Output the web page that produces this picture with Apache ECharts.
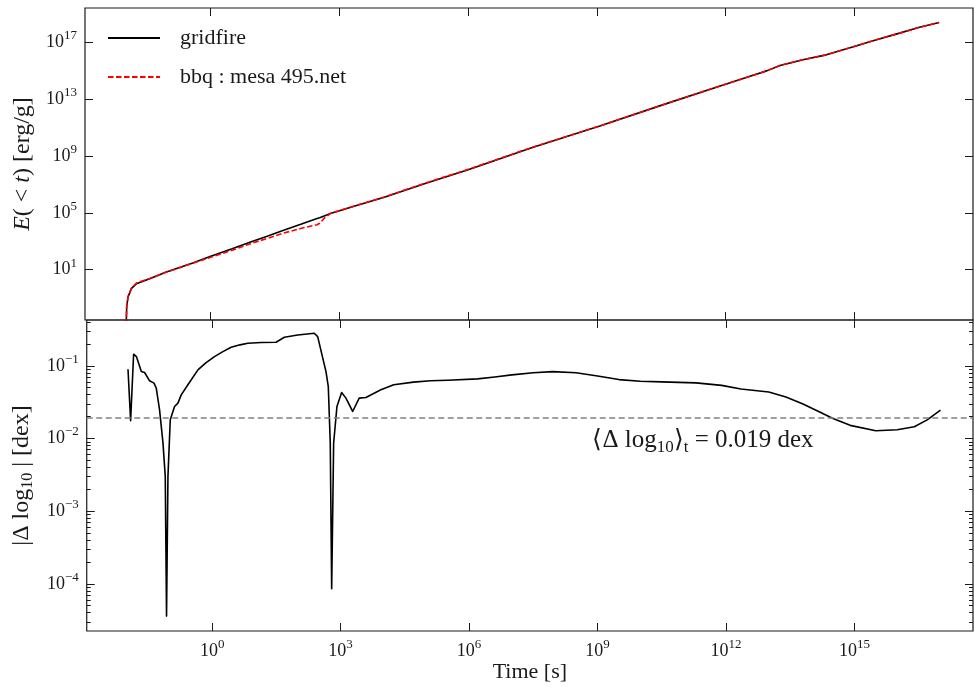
<!DOCTYPE html>
<html>
<head>
<meta charset="utf-8">
<script src="https://cdn.jsdelivr.net/npm/echarts@6/dist/echarts.min.js"></script>
<style>html,body{margin:0;padding:0;background:#fff}#c{width:974px;height:687px}</style>
</head>
<body>
<div id="c"></div>
<script>
// ---- data (log10 values) ----
const topLogTime = [-1.968, -1.966, -1.958, -1.928, -1.849, -1.732, -1.422, -1.033, -0.863, -0.4, 0.0, 0.5, 0.93, 1.3, 1.7, 2.1, 2.48, 2.54, 2.66, 2.79, 3.4, 4.03, 5.0, 6.02, 7.5, 9.07, 10.5, 12.0, 12.5, 12.96, 13.27, 13.8, 14.35, 15.0, 15.5, 16.06, 16.5, 16.98];
const gridfireLogE = [-4, -2.5, -1.64, -0.94, -0.34, 0.01, 0.36, 0.83, 1.00, 1.49, 1.94, 2.47, 2.95, 3.34, 3.77, 4.19, 4.60, 4.66, 4.80, 4.95, 5.52, 6.08, 7.06, 8.05, 9.6, 11.12, 12.57, 14.06, 14.55, 15.0, 15.38, 15.78, 16.13, 16.72, 17.18, 17.66, 18.05, 18.41];
const bbqLogE = [-4, -2.5, -1.64, -0.92, -0.31, 0.05, 0.38, 0.83, 0.99, 1.47, 1.87, 2.36, 2.83, 3.18, 3.57, 3.90, 4.16, 4.27, 4.66, 4.95, 5.53, 6.10, 7.09, 8.08, 9.62, 11.12, 12.57, 14.06, 14.55, 15.0, 15.38, 15.78, 16.13, 16.72, 17.18, 17.66, 18.05, 18.41];

const diffLogTime = [-1.966, -1.905, -1.835, -1.770, -1.655, -1.578, -1.462, -1.359, -1.306, -1.229, -1.149, -1.096, -1.066, -1.033, -0.979, -0.879, -0.800, -0.723, -0.567, -0.333, -0.15, 0.054, 0.25, 0.443, 0.65, 0.832, 1.15, 1.492, 1.686, 1.998, 2.385, 2.464, 2.658, 2.712, 2.758, 2.791, 2.837, 2.914, 3.024, 3.124, 3.281, 3.434, 3.591, 3.940, 4.24, 4.7, 5.1, 5.5, 6.2, 6.6, 7.0, 7.5, 7.95, 8.5, 9.0, 9.5, 10.0, 10.5, 11.3, 11.9, 12.35, 13.0, 13.4, 13.8, 14.2, 14.5, 14.9, 15.5, 16.0, 16.4, 16.7, 17.01];
const diffLogDex = [-1.047, -1.757, -0.841, -0.874, -1.080, -1.093, -1.207, -1.239, -1.308, -1.606, -2.063, -2.522, -4.445, -2.522, -1.743, -1.560, -1.514, -1.400, -1.262, -1.056, -0.96, -0.874, -0.805, -0.745, -0.712, -0.690, -0.680, -0.676, -0.607, -0.576, -0.552, -0.599, -1.080, -1.286, -2.063, -4.069, -2.063, -1.560, -1.368, -1.445, -1.629, -1.445, -1.437, -1.331, -1.26, -1.225, -1.207, -1.200, -1.180, -1.155, -1.125, -1.095, -1.080, -1.095, -1.140, -1.190, -1.212, -1.222, -1.235, -1.270, -1.320, -1.360, -1.430, -1.525, -1.640, -1.725, -1.820, -1.895, -1.880, -1.840, -1.745, -1.610];
const meanDex = 0.019;

const xTickExp = [0, 3, 6, 9, 12, 15];
const topYTickExp = [1, 5, 9, 13, 17];
const botYTickExp = [-4, -3, -2, -1];

// ---- helpers ----
const FONT = 'Liberation Serif';
const INK = '#1a1a1a';
const xMin = -2.93, xMax = 17.77;
const topMin = -2.55, topMax = 19.43;
const botMin = -4.65, botMax = -0.37;

const botMinor = [];
for (let n = -5; n <= 0; n++) for (let k = 2; k <= 9; k++) {
  const v = n + Math.log10(k);
  if (v > botMin && v < botMax) botMinor.push(v);
}
function zip(a, b) { return a.map((v, i) => [v, b[i]]); }
function pow10(v) {
  const n = Math.round(v);
  const s = n < 0 ? '\u2212' + (-n) : '' + n;
  return '{b|10}{s|' + s + '}';
}
const labelRich = {
  b: { fontFamily: FONT, fontSize: 18, color: INK, lineHeight: 26 },
  s: { fontFamily: FONT, fontSize: 13, color: INK, verticalAlign: 'top', lineHeight: 15 }
};
function tick(len, vals) {
  return { show: true, inside: true, length: len, customValues: vals, lineStyle: { color: INK, width: 1 } };
}
function xAx(grid, pos, labels) {
  return {
    type: 'value', gridIndex: grid, position: pos, min: xMin, max: xMax,
    axisLine: { show: false, onZero: false }, splitLine: { show: false },
    axisTick: tick(8, xTickExp),
    axisLabel: labels ? { show: true, customValues: xTickExp, formatter: pow10, rich: labelRich, margin: 7 } : { show: false }
  };
}
function yAx(grid, pos, min, max, vals, len, labels) {
  return {
    type: 'value', gridIndex: grid, position: pos, min, max,
    axisLine: { show: false, onZero: false }, splitLine: { show: false },
    axisTick: tick(len, vals),
    axisLabel: labels ? { show: true, customValues: vals, formatter: pow10, rich: labelRich, margin: 8 } : { show: false }
  };
}

const chart = echarts.init(document.getElementById('c'), null, { renderer: 'canvas' });

const yTopL = yAx(0, 'left', topMin, topMax, topYTickExp, 8, true);
yTopL.name = '{i|E}( < {i|t}) [erg/g]';
yTopL.nameLocation = 'middle';
yTopL.nameGap = 45;
yTopL.nameTextStyle = { fontFamily: FONT, fontSize: 24, color: INK, rich: { i: { fontFamily: FONT, fontSize: 24, fontStyle: 'italic', color: INK } } };

const yBotL = yAx(1, 'left', botMin, botMax, botYTickExp, 8, true);
yBotL.name = '|\u0394 log{sub|10} | [dex]';
yBotL.nameLocation = 'middle';
yBotL.nameGap = 45;
yBotL.nameTextStyle = { fontFamily: FONT, fontSize: 24, color: INK, lineHeight: 28, rich: { sub: { fontFamily: FONT, fontSize: 16, color: INK, verticalAlign: 'bottom', lineHeight: 12 } } };

const xBot = xAx(1, 'bottom', true);
xBot.name = 'Time [s]';
xBot.nameLocation = 'middle';
xBot.nameGap = 20;
xBot.nameTextStyle = { fontFamily: FONT, fontSize: 22, color: INK };

chart.setOption({
  animation: false,
  backgroundColor: '#fff',
  grid: [
    { left: 85, right: 1, top: 8, height: 312, show: true, borderColor: INK, borderWidth: 1.2, backgroundColor: 'transparent' },
    { left: 85, right: 1, top: 320, height: 311, show: true, borderColor: INK, borderWidth: 1.2, backgroundColor: 'transparent' }
  ],
  xAxis: [xAx(0, 'bottom', false), xAx(0, 'top', false), xBot, xAx(1, 'top', false)],
  yAxis: [
    yTopL,
    yAx(0, 'right', topMin, topMax, topYTickExp, 8, false),
    yBotL,
    yAx(1, 'left', botMin, botMax, botMinor, 4, false),
    yAx(1, 'right', botMin, botMax, botYTickExp, 8, false),
    yAx(1, 'right', botMin, botMax, botMinor, 4, false)
  ],
  legend: {
    data: ['gridfire', 'bbq : mesa 495.net'],
    orient: 'vertical', left: 107, top: 27, padding: 0,
    itemWidth: 52, itemHeight: 22, itemGap: 17,
    itemStyle: { opacity: 0 },
    textStyle: { fontFamily: FONT, fontSize: 22, color: INK, padding: [0, 0, 0, 15] }
  },
  series: [
    {
      name: 'gridfire', type: 'line', xAxisIndex: 0, yAxisIndex: 0,
      data: zip(topLogTime, gridfireLogE), symbol: 'none', clip: true,
      lineStyle: { color: '#000', width: 1.6 }, itemStyle: { color: '#000' }
    },
    {
      name: 'bbq : mesa 495.net', type: 'line', xAxisIndex: 0, yAxisIndex: 0,
      data: zip(topLogTime, bbqLogE), symbol: 'none', clip: true,
      lineStyle: { color: '#ff0000', width: 1.6, type: [5.5, 2.5] }, itemStyle: { color: '#ff0000' }
    },
    {
      name: 'diff', type: 'line', xAxisIndex: 2, yAxisIndex: 2,
      data: zip(diffLogTime, diffLogDex), symbol: 'none', clip: true,
      lineStyle: { color: '#000', width: 1.6, join: 'round' }, itemStyle: { color: '#000' },
      markLine: {
        silent: true, symbol: 'none', label: { show: false },
        lineStyle: { color: '#808080', width: 1.5, type: [6, 3.5] },
        data: [{ yAxis: Math.log10(meanDex) }]
      }
    }
  ],
  graphic: [{
    type: 'text', x: 703, y: 440, silent: true,
    style: {
      text: '{b|\u27E8\u0394 log}{sub|10}{b|\u27E9}{sub|t}{b| = ' + meanDex.toFixed(3) + ' dex}',
      align: 'center', verticalAlign: 'middle',
      fontFamily: FONT, fontSize: 25, fill: INK,
      rich: {
        b: { fontFamily: FONT, fontSize: 25, fill: INK, lineHeight: 32 },
        sub: { fontFamily: FONT, fontSize: 17, fill: INK, verticalAlign: 'bottom', lineHeight: 14 }
      }
    }
  }]
});
</script>
</body>
</html>
